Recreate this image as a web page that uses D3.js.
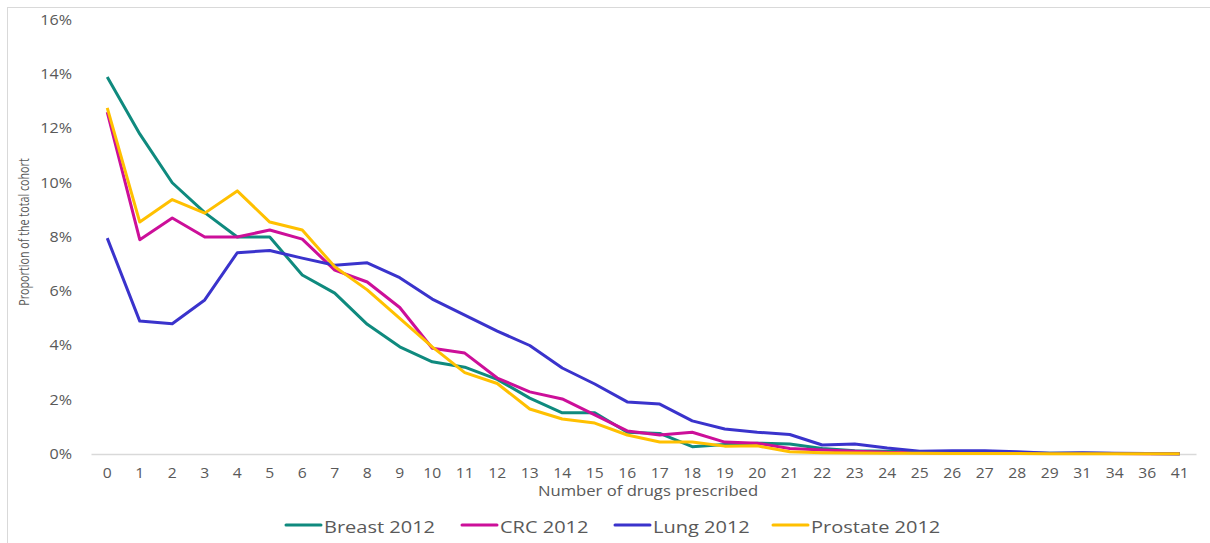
<!DOCTYPE html>
<html>
<head>
<meta charset="utf-8">
<script src="https://cdn.jsdelivr.net/npm/d3@7"></script>
<style>
  body { margin: 0; background: #fff; }
  text { font-family: "Open Sans", sans-serif; fill: #595959; }
</style>
</head>
<body>
<div id="line-chart"></div>
<script>
// categories on the x axis
const drugs = ["0","1","2","3","4","5","6","7","8","9","10","11","12","13","14","15","16","17","18","19","20",
  "21","22","23","24","25","26","27","28","29","31","34","36","41"];

// proportion of cohort in %
const breast = [13.9,11.8,10.0,8.9,8.0,8.0,6.6,5.93,4.78,3.95,3.4,3.2,2.75,2.06,1.52,1.52,0.8,0.76,0.27,0.35,0.4,
  0.37,0.2,0.12,0.1,0.06,0.05,0.05,0.04,0.03,0.03,0.02,0.02,0.01];
const crc = [12.6,7.9,8.7,8.0,8.0,8.26,7.92,6.78,6.34,5.4,3.9,3.72,2.8,2.29,2.03,1.44,0.85,0.7,0.8,0.44,0.4,
  0.2,0.15,0.1,0.06,0.05,0.04,0.04,0.03,0.02,0.02,0.02,0.01,0.01];
const lung = [7.96,4.9,4.8,5.68,7.42,7.5,7.22,6.96,7.05,6.5,5.71,5.12,4.53,4.0,3.17,2.58,1.92,1.84,1.22,0.92,0.8,
  0.72,0.33,0.37,0.22,0.1,0.12,0.12,0.08,0.03,0.05,0.03,0.02,0.01];
const prostate = [12.76,8.55,9.38,8.88,9.7,8.55,8.26,6.9,6.05,5.0,3.95,3.0,2.6,1.66,1.29,1.14,0.7,0.44,0.44,0.29,0.3,
  0.08,0.05,0.04,0.03,0.03,0.02,0.02,0.02,0.01,0.01,0.01,0.01,0.01];

const yTicks = [0,2,4,6,8,10,12,14,16];

const series = [
  {name: "Breast 2012", values: breast, color: "#0f8a7e"},
  {name: "CRC 2012", values: crc, color: "#cc0f99"},
  {name: "Lung 2012", values: lung, color: "#3a33cc"},
  {name: "Prostate 2012", values: prostate, color: "#ffc000"}
];

const W = 1210, H = 543;
const margin = {top: 20, right: 14, bottom: 89, left: 91};

const svg = d3.select("#line-chart")
  .append("svg")
  .attr("width", W)
  .attr("height", H);

// chart border (only top and left visible)
svg.append("line").attr("x1", 7).attr("x2", W).attr("y1", 7.5).attr("y2", 7.5)
  .attr("stroke", "#d9d9d9");
svg.append("line").attr("x1", 7.5).attr("x2", 7.5).attr("y1", 7).attr("y2", H)
  .attr("stroke", "#d9d9d9");

const xScale = d3.scaleBand()
  .domain(drugs)
  .range([margin.left, W - margin.right]);

const yScale = d3.scaleLinear()
  .domain([0, 16])
  .range([H - margin.bottom, margin.top]);

const xMid = d => xScale(d) + xScale.bandwidth() / 2;

// the text in the original picture is stretched sideways a bit
const ySx = 1.15, xSx = 1.12;

// y axis labels
svg.append("g")
  .attr("transform", `translate(${margin.left}, 0)`)
  .call(d3.axisLeft(yScale).tickValues(yTicks).tickFormat(d => d + "%").tickSize(0).tickPadding(19 / ySx))
  .call(g => g.select(".domain").remove())
  .selectAll("text")
  .attr("font-size", 14)
  .attr("font-family", "Open Sans, sans-serif")
  .attr("fill", "#595959")
  .attr("transform", `scale(${ySx},1)`);

// x axis
svg.append("g")
  .attr("transform", `translate(0, ${yScale(0)})`)
  .call(d3.axisBottom(xScale).tickSize(0).tickPadding(14))
  .call(g => g.select(".domain").attr("stroke", "#d9d9d9").attr("stroke-width", 1.3))
  .selectAll("text")
  .attr("font-size", 14)
  .attr("font-family", "Open Sans, sans-serif")
  .attr("fill", "#595959")
  .attr("transform", `scale(${xSx},1)`);

// lines
const line = d3.line()
  .x((d, i) => xMid(drugs[i]))
  .y(d => yScale(d));

series.forEach(s => {
  svg.append("path")
    .datum(s.values)
    .attr("d", line)
    .attr("fill", "none")
    .attr("stroke", s.color)
    .attr("stroke-width", 3)
    .attr("stroke-linejoin", "round");
});

// axis titles
svg.append("text")
  .text("Number of drugs prescribed")
  .attr("transform", "translate(648, 496) scale(1.19,1)")
  .attr("text-anchor", "middle")
  .attr("font-size", 14);

svg.append("text")
  .text("Proportion of the total cohort")
  .attr("transform", `translate(29, 232) rotate(-90) scale(0.74,1)`)
  .attr("text-anchor", "middle")
  .attr("font-size", 14.5);

// legend
const legendX = [286, 462, 615, 773];
const legend = svg.append("g");
series.forEach((s, i) => {
  const g = legend.append("g").attr("transform", `translate(${legendX[i]}, 525)`);
  g.append("line").attr("x1", 0).attr("x2", 35).attr("y1", 0).attr("y2", 0)
    .attr("stroke", s.color).attr("stroke-width", 3).attr("stroke-linecap", "round");
  g.append("text").text(s.name)
    .attr("transform", "translate(38, 8) scale(1.25,1)")
    .attr("font-size", 16);
});
</script>
</body>
</html>
